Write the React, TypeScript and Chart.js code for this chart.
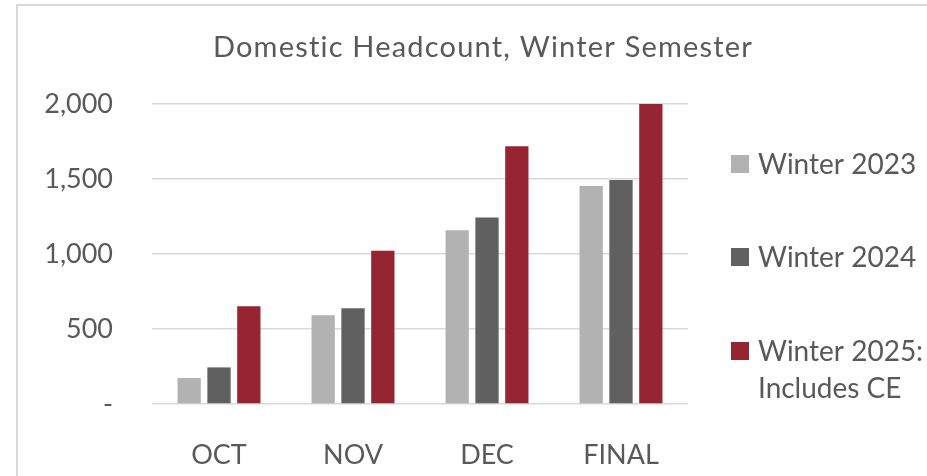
import React, { useEffect, useRef } from "react";
import { Chart, registerables } from "chart.js";

Chart.register(...registerables);

const chartTitle = "Domestic Headcount, Winter Semester";
const categories = ["OCT", "NOV", "DEC", "FINAL"];
const winter2023 = [173, 591, 1158, 1453];
const winter2024 = [244, 638, 1244, 1493];
const winter2025 = [651, 1022, 1718, 2000];
const seriesNames: string[][] = [["Winter 2023"], ["Winter 2024"], ["Winter 2025:", "Includes CE"]];
const seriesColors = ["#B2B2B2", "#606060", "#952532"];
const yMin = 0;
const yMax = 2000;
const yStep = 500;

const TEXT = "#595959";
const FONT_FAMILY = "Lato, 'Noto Sans', sans-serif";
const FONT_SIZE = 27;

const decorPlugin = {
  id: "decor",
  beforeDraw(chart: any) {
    const ctx = chart.ctx;
    ctx.save();
    ctx.strokeStyle = "#D9D9D9";
    ctx.lineWidth = 2;
    ctx.beginPath();
    ctx.moveTo(17, 476);
    ctx.lineTo(17, 5);
    ctx.lineTo(927, 5);
    ctx.stroke();
    ctx.restore();
  },
  afterDraw(chart: any) {
    const ctx = chart.ctx;
    ctx.save();
    ctx.fillStyle = TEXT;
    ctx.font = `29px ${FONT_FAMILY}`;
    try {
      (ctx as any).letterSpacing = "1.2px";
    } catch (e) {}
    ctx.textAlign = "center";
    ctx.textBaseline = "alphabetic";
    ctx.fillText(chartTitle, 483, 57);
    try {
      (ctx as any).letterSpacing = "0px";
    } catch (e) {}

    // legend
    ctx.font = `28px ${FONT_FAMILY}`;
    const rowCenters = [164, 257, 351];
    const lineGap = 36.5;
    chart.data.datasets.forEach((ds: any, i: number) => {
      const cy = rowCenters[i];
      ctx.fillStyle = ds.backgroundColor;
      ctx.fillRect(731, cy - 9, 18, 18);
      ctx.fillStyle = TEXT;
      ctx.textAlign = "left";
      const lines: string[] = seriesNames[i];
      lines.forEach((ln, k) => {
        ctx.fillText(ln, 758, cy + 10 + k * lineGap);
      });
    });
    ctx.restore();
  },
};

export default function App() {
  const ref = useRef<HTMLCanvasElement | null>(null);
  useEffect(() => {
    if (!ref.current) return;
    const chart = new Chart(ref.current, {
      type: "bar",
      data: {
        labels: categories,
        datasets: [
          { label: seriesNames[0].join(" "), data: winter2023, backgroundColor: seriesColors[0] },
          { label: seriesNames[1].join(" "), data: winter2024, backgroundColor: seriesColors[1] },
          { label: seriesNames[2].join(" "), data: winter2025, backgroundColor: seriesColors[2] },
        ],
      },
      options: {
        responsive: false,
        animation: false,
        devicePixelRatio: 1,
        layout: { padding: { top: 104, right: 239, bottom: 0, left: 0 } },
        datasets: { bar: { categoryPercentage: 0.668, barPercentage: 0.78 } },
        plugins: {
          legend: { display: false },
          title: { display: false },
          tooltip: { enabled: false },
        },
        scales: {
          x: {
            grid: { display: false },
            border: { display: false },
            ticks: { color: TEXT, font: { family: FONT_FAMILY, size: FONT_SIZE }, padding: 27, maxRotation: 0 },
            afterFit: (s: any) => {
              s.height = 72;
            },
          },
          y: {
            min: yMin,
            max: yMax,
            ticks: {
              stepSize: yStep,
              padding: 39,
              color: TEXT,
              font: { family: FONT_FAMILY, size: FONT_SIZE },
              callback: (v: any) => (Number(v) === 0 ? "-" : Number(v).toLocaleString("en-US")),
            },
            grid: { color: "#D9D9D9", lineWidth: 1.5, drawTicks: false },
            border: { display: false },
            afterFit: (s: any) => {
              s.width = 152;
            },
          },
        },
      },
      plugins: [decorPlugin],
    });
    return () => chart.destroy();
  }, []);
  return (
    <div style={{ position: "fixed", left: 0, top: 0, width: 927, height: 476, background: "#fff" }}>
      <canvas ref={ref} width={927} height={476} />
    </div>
  );
}
